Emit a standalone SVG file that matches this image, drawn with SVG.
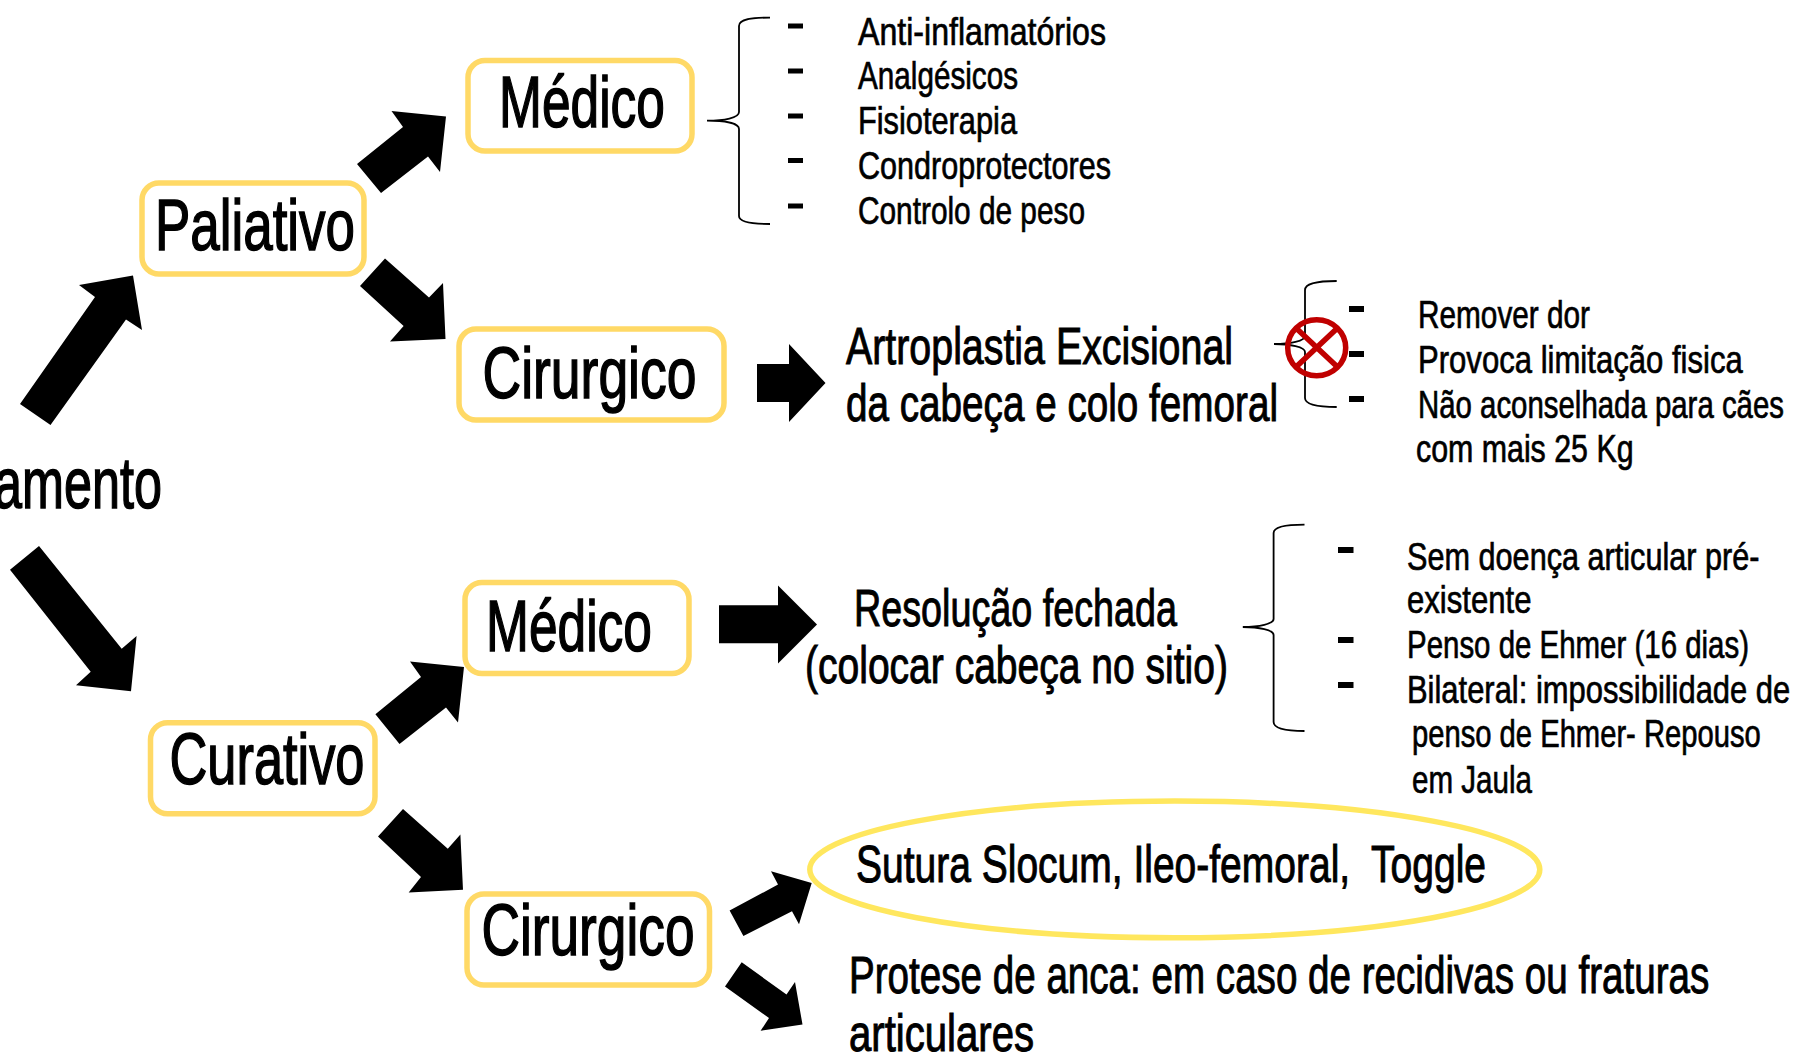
<svg xmlns="http://www.w3.org/2000/svg" width="1795" height="1057" viewBox="0 0 1795 1057">
<style>
text{font-family:"Liberation Sans",Arial,sans-serif;fill:#000;stroke:#000;white-space:pre}
.xl{font-size:72px;stroke-width:1.5}
.l{font-size:52px;stroke-width:1}
.s{font-size:39px;stroke-width:.7}
.box{fill:#fff;stroke:#FFD966;stroke-width:5.5}
.oval{fill:none;stroke:#FFE75E;stroke-width:5.5}
.arrow{fill:#000}
.brace{fill:none;stroke:#000;stroke-width:1.8}
.dash{fill:#000}
.no{fill:none;stroke:#C00000;stroke-width:5.5}
</style>
<rect width="1795" height="1057" fill="#fff"/>
<g id="connectors">
<polygon class="arrow" points="20,404 50.5,425 126,319.5 142,330 133,275.5 79,285 95,297"/>
<polygon class="arrow" points="39,546.1 10,569.7 90.7,671.8 76,685.3 131,691.3 136.6,635.9 121.7,648.7"/>
<polygon class="arrow" points="357,164 381,193 428,156.5 440,172 446,116.6 391.5,111 403,127"/>
<polygon class="arrow" points="385,258.6 360,286 403.6,326 390,341.5 445.5,339 443,283 429,297.5"/>
<polygon class="arrow" points="757,364 789,364 789,344 825.5,383 789,422 789,402 757,402"/>
<polygon class="arrow" points="719,605.3 778,605.3 778,585.5 817,624.5 778,663.4 778,643.3 719,643.3"/>
<polygon class="arrow" points="375.4,714.2 399.5,744.1 446,707.5 458,722.6 464,667.1 410,661.4 421,676.9"/>
<polygon class="arrow" points="403,809 378,836.6 421,876.9 408.7,892.4 463,889.7 460.4,834.5 447.8,848.7"/>
<polygon class="arrow" points="729.6,910.5 743.4,936 792,911.2 799,924.3 811.7,882.9 771,871.2 778,884.6"/>
<polygon class="arrow" points="741.7,962.3 725,986.5 769,1018 760.6,1030.8 802.5,1024.5 795,982.1 786.5,994.5"/>
<path class="brace" d="M770,17.6C752,17.6 739,19 739,26V112C739,118 724,120.7 707,120.7C724,120.7 739,123 739,129V216C739,222 752,224 770,224"/>
<path class="brace" d="M1336.7,281C1318,281 1305,283 1305,290V336C1305,341 1290,344 1274,344C1290,344 1305,347 1305,352V398C1305,405 1318,407 1336.7,407"/>
<path class="brace" d="M1304.5,524.7C1286,524.7 1273.6,527 1273.6,533V619C1273.6,624 1259,627 1242.8,627C1259,627 1273.6,630 1273.6,635V722C1273.6,729 1286,731 1304.5,731"/>
</g>
<g id="tratamento"><text class="xl" x="-6" y="507.5" textLength="168" lengthAdjust="spacingAndGlyphs">amento</text></g>
<g id="paliativo"><rect class="box" x="142" y="183" width="222" height="91" rx="17"/><text class="xl" x="155" y="250" textLength="200" lengthAdjust="spacingAndGlyphs">Paliativo</text></g>
<g id="curativo"><rect class="box" x="150.5" y="722.7" width="224.5" height="91" rx="17"/><text class="xl" x="169.5" y="783.8" textLength="195" lengthAdjust="spacingAndGlyphs">Curativo</text></g>
<g id="medico-1"><rect class="box" x="468" y="60.5" width="224" height="90.5" rx="17"/><text class="xl" x="499" y="127" textLength="166" lengthAdjust="spacingAndGlyphs">Médico</text></g>
<g id="cirurgico-1"><rect class="box" x="459" y="329" width="265" height="91" rx="17"/><text class="xl" x="482.5" y="398" textLength="214" lengthAdjust="spacingAndGlyphs">Cirurgico</text></g>
<g id="medico-2"><rect class="box" x="465" y="582.5" width="224" height="91" rx="17"/><text class="xl" x="486" y="651" textLength="166" lengthAdjust="spacingAndGlyphs">Médico</text></g>
<g id="cirurgico-2"><rect class="box" x="467" y="894" width="242.5" height="91" rx="17"/><text class="xl" x="481.5" y="955.2" textLength="213" lengthAdjust="spacingAndGlyphs">Cirurgico</text></g>
<g id="lista-medico">
<rect class="dash" x="788" y="23.5" width="15" height="5"/><rect class="dash" x="788" y="68.5" width="15" height="5"/><rect class="dash" x="788" y="113.5" width="15" height="5"/><rect class="dash" x="788" y="158" width="15" height="5"/><rect class="dash" x="788" y="203.5" width="15" height="5"/>
<text class="s" x="858" y="45" textLength="248" lengthAdjust="spacingAndGlyphs">Anti-inflamatórios</text>
<text class="s" x="858" y="89" textLength="160" lengthAdjust="spacingAndGlyphs">Analgésicos</text>
<text class="s" x="858" y="134" textLength="159" lengthAdjust="spacingAndGlyphs">Fisioterapia</text>
<text class="s" x="858" y="179" textLength="253" lengthAdjust="spacingAndGlyphs">Condroprotectores</text>
<text class="s" x="858" y="224" textLength="227" lengthAdjust="spacingAndGlyphs">Controlo de peso</text>
</g>
<g id="artroplastia">
<text class="l" x="846" y="364" textLength="387" lengthAdjust="spacingAndGlyphs">Artroplastia Excisional</text>
<text class="l" x="846" y="420.7" textLength="432" lengthAdjust="spacingAndGlyphs">da cabeça e colo femoral</text>
</g>
<g id="lista-artroplastia">
<rect class="dash" x="1349" y="306" width="15" height="6"/><rect class="dash" x="1349" y="351" width="15" height="6"/><rect class="dash" x="1349" y="396" width="15" height="6"/>
<text class="s" x="1418" y="328" textLength="172" lengthAdjust="spacingAndGlyphs">Remover dor</text>
<text class="s" transform="translate(1418,373) scale(.75,1)" textLength="433" lengthAdjust="spacingAndGlyphs">Provoca limitação fisica</text>
<text class="s" transform="translate(1418,417.7) scale(.75,1)" textLength="488" lengthAdjust="spacingAndGlyphs">Não aconselhada para cães</text>
<text class="s" x="1416" y="462" textLength="217.5" lengthAdjust="spacingAndGlyphs">com mais 25 Kg</text>
</g>
<g id="proibido">
<ellipse class="no" cx="1316.7" cy="347.7" rx="29" ry="28"/>
<path class="no" d="M1296,328L1337.5,367M1337.5,328L1296,367"/>
</g>
<g id="resolucao">
<text class="l" x="854" y="626" textLength="323" lengthAdjust="spacingAndGlyphs">Resolução fechada</text>
<text class="l" x="805" y="683" textLength="423" lengthAdjust="spacingAndGlyphs">(colocar cabeça no sitio)</text>
</g>
<g id="lista-resolucao">
<rect class="dash" x="1338" y="547" width="15.5" height="6"/><rect class="dash" x="1338" y="637" width="15.5" height="6"/><rect class="dash" x="1338" y="682" width="15.5" height="6"/>
<text class="s" transform="translate(1407,569.5) scale(.75,1)" textLength="470" lengthAdjust="spacingAndGlyphs">Sem doença articular pré-</text>
<text class="s" x="1407" y="613" textLength="124.5" lengthAdjust="spacingAndGlyphs">existente</text>
<text class="s" transform="translate(1407,658) scale(.75,1)" textLength="456" lengthAdjust="spacingAndGlyphs">Penso de Ehmer (16 dias)</text>
<text class="s" transform="translate(1407,702.5) scale(.75,1)" textLength="511" lengthAdjust="spacingAndGlyphs">Bilateral: impossibilidade de</text>
<text class="s" transform="translate(1412,747) scale(.75,1)" textLength="465" lengthAdjust="spacingAndGlyphs">penso de Ehmer- Repouso</text>
<text class="s" x="1412" y="793" textLength="120" lengthAdjust="spacingAndGlyphs">em Jaula</text>
</g>
<g id="sutura">
<ellipse class="oval" cx="1174.8" cy="869.4" rx="365" ry="68.3"/>
<text class="l" x="856" y="881.5" textLength="630" lengthAdjust="spacingAndGlyphs">Sutura Slocum, Ileo-femoral,  Toggle</text>
</g>
<g id="protese">
<text class="l" transform="translate(849,992.7) scale(.75,1)" textLength="1147" lengthAdjust="spacingAndGlyphs">Protese de anca: em caso de recidivas ou fraturas</text>
<text class="l" x="849" y="1050.6" textLength="185" lengthAdjust="spacingAndGlyphs">articulares</text>
</g>
</svg>
